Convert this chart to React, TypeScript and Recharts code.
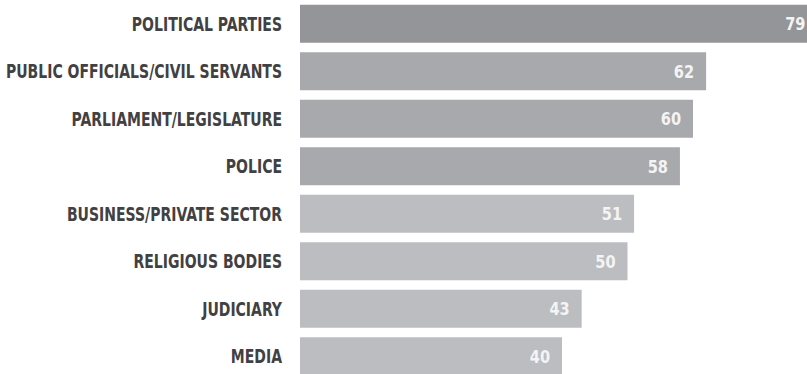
import { BarChart, Bar, XAxis, YAxis, Cell, LabelList } from "recharts";

const categories = [
  "POLITICAL PARTIES",
  "PUBLIC OFFICIALS/CIVIL SERVANTS",
  "PARLIAMENT/LEGISLATURE",
  "POLICE",
  "BUSINESS/PRIVATE SECTOR",
  "RELIGIOUS BODIES",
  "JUDICIARY",
  "MEDIA",
];
const values = [79, 62, 60, 58, 51, 50, 43, 40];
const barColors = [
  "#939598",
  "#a7a9ac",
  "#a7a9ac",
  "#a7a9ac",
  "#bcbdc0",
  "#bcbdc0",
  "#bcbdc0",
  "#bcbdc0",
];

const data = categories.map((name, i) => ({ name, value: values[i] }));

const FONT = "'DejaVu Sans Condensed', 'DejaVu Sans', sans-serif";

// condensed look: squeeze the bold sans horizontally
function CategoryTick(props: any) {
  const { x, y, payload } = props;
  return (
    <text
      transform={`translate(${x}, ${y}) scale(0.82, 1)`}
      textAnchor="end"
      dy="0.36em"
      fontSize={19}
      fontFamily={FONT}
      fontWeight={700}
      fill="#414042"
    >
      {payload.value}
    </text>
  );
}

function ValueLabel(props: any) {
  const { x, y, width, height, value } = props;
  const tx = x + width - 12;
  const ty = y + height / 2;
  return (
    <text
      transform={`translate(${tx}, ${ty}) scale(0.9, 1)`}
      textAnchor="end"
      dy="0.36em"
      fontSize={18}
      fontFamily={FONT}
      fontWeight={700}
      fill="#f4f4f4"
    >
      {value}
    </text>
  );
}

export default function App() {
  return (
    <div
      style={{
        position: "absolute",
        left: 0,
        top: 0,
        width: 807,
        height: 374,
        overflow: "hidden",
        background: "#fff",
      }}
    >
      <BarChart
        width={807}
        height={380}
        layout="vertical"
        data={data}
        margin={{ top: 0, right: 0, left: 0, bottom: 0 }}
        barCategoryGap="10%"
      >
        <XAxis type="number" domain={[0, 77.4]} allowDataOverflow hide />
        <YAxis
          type="category"
          dataKey="name"
          width={300}
          axisLine={false}
          tickLine={false}
          tickSize={0}
          tickMargin={18}
          tick={<CategoryTick />}
        />
        <Bar dataKey="value" isAnimationActive={false}>
          {data.map((_, i) => (
            <Cell key={i} fill={barColors[i]} />
          ))}
          <LabelList dataKey="value" content={<ValueLabel />} />
        </Bar>
      </BarChart>
    </div>
  );
}
